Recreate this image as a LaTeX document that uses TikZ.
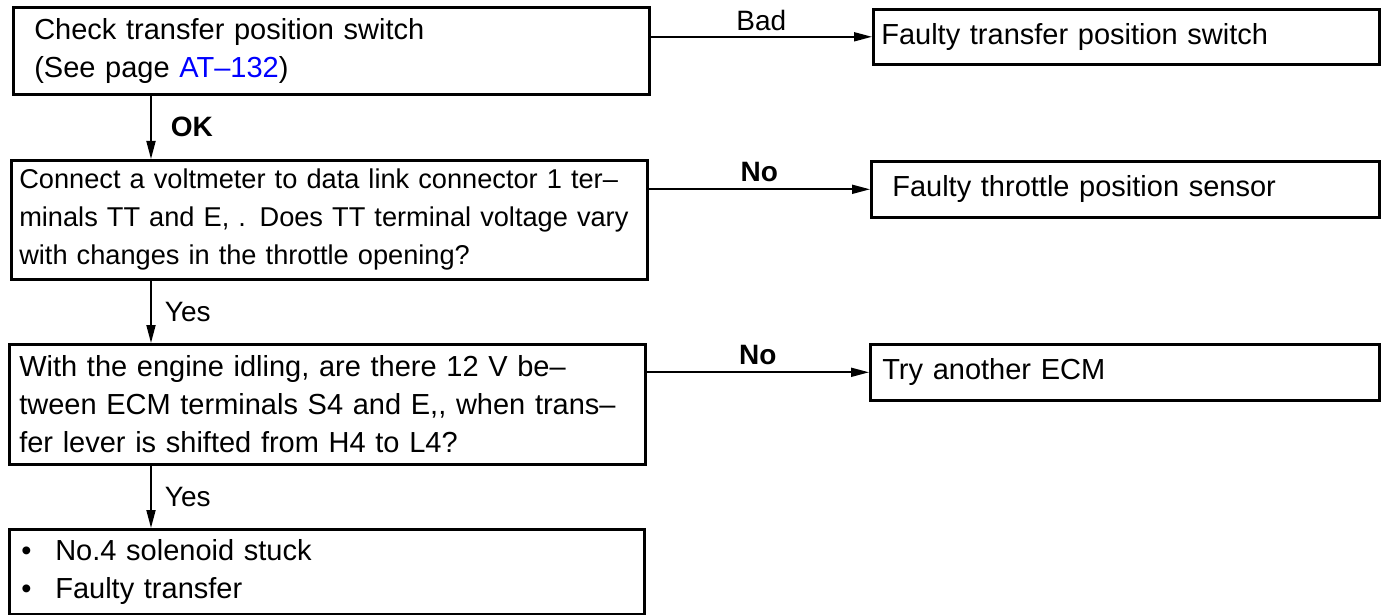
\documentclass[tikz,border=0pt]{standalone}
\usepackage{fontspec}
\setmainfont{Liberation Sans}
\usetikzlibrary{arrows.meta,positioning}

\begin{document}
\begin{tikzpicture}[x=0.5pt,y=-0.5pt,
box/.style={draw,line width=1.3pt,anchor=north west,inner ysep=0pt,align=left,
font=\fontsize{14.5}{19}\selectfont},
narrow/.style={font=\fontsize{13.6}{19}\selectfont},
arr/.style={line width=0.9pt,-{Triangle[length=9pt,width=4.5pt]}},
lbl/.style={inner sep=1pt,font=\fontsize{14}{17}\selectfont}]
\useasboundingbox (0,0) rectangle (1382,615);

\node[box,minimum width=318pt,minimum height=43.5pt,inner xsep=10.5pt,text width=297pt]
(A1) at (12,6) {Check transfer position switch\\(See page \textcolor{blue}{AT–132})};
\node[box,narrow,minimum width=318pt,minimum height=59.5pt,inner xsep=4pt,text width=310pt]
(A2) at (10,159) {Connect a voltmeter to data link connector 1 ter–\\minals TT and E, . Does TT terminal voltage vary\\with changes in the throttle opening?};
\node[box,minimum width=318pt,minimum height=60pt,inner xsep=5pt,text width=308pt]
(A3) at (8,343) {With the engine idling, are there 12 V be–\\tween ECM terminals S4 and E,{},\ when trans–\\fer lever is shifted from H4 to L4?};
\node[box,minimum width=317.5pt,minimum height=42.5pt,inner xsep=6pt,text width=305.5pt]
(A4) at (8,528) {\makebox[17pt][l]{•}No.4 solenoid stuck\\\makebox[17pt][l]{•}Faulty transfer};

\node[box,minimum width=253pt,minimum height=27.5pt,inner xsep=4pt,text width=245pt]
(F1) at (872,8) {Faulty transfer position switch};
\node[box,minimum width=254pt,minimum height=28pt,inner xsep=10.5pt,text width=233pt]
(F2) at (870,160) {Faulty throttle position sensor};
\node[box,minimum width=254.5pt,minimum height=28pt,inner xsep=6pt,text width=242.5pt]
(F3) at (869,343) {Try another ECM};

\coordinate (c) at (151,0);
\draw[arr] (A1.south -| c) -- node[lbl,right=8.5pt]{\textbf{OK}} (A2.north -| c);
\draw[arr] (A2.south -| c) -- node[lbl,right=5.5pt]{Yes} (A3.north -| c);
\draw[arr] (A3.south -| c) -- node[lbl,right=5.5pt]{Yes} (A4.north -| c);

\draw[arr] (A1.east |- F1.west) -- node[lbl,above=1.5pt]{Bad} (F1.west);
\draw[arr] (A2.east |- F2.west) -- node[lbl,above=2.5pt]{\textbf{No}} (F2.west);
\draw[arr] (A3.east |- F3.west) -- node[lbl,above=2.5pt]{\textbf{No}} (F3.west);
\end{tikzpicture}
\end{document}
